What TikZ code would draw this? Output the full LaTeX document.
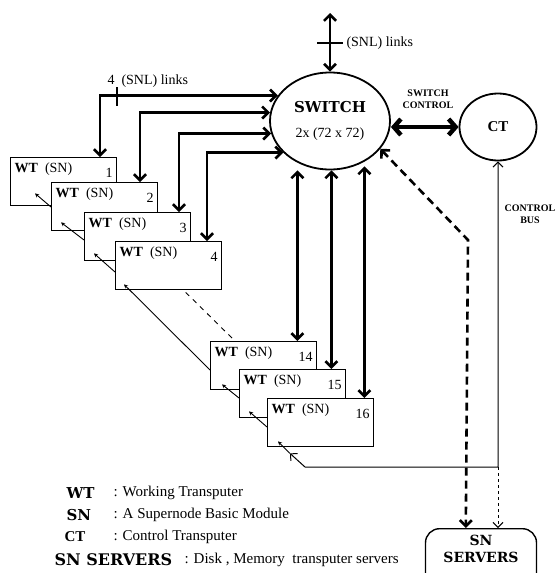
\documentclass[tikz,border=0pt]{standalone}
\usepackage{fontspec}
\setmainfont{Liberation Serif}
\newfontfamily\heavyfont{DejaVu Serif}
\usetikzlibrary{positioning,arrows.meta,shapes.geometric,calc}

\newcommand{\wtlabel}[1]{\textbf{WT}\enspace(SN)\hspace{0pt plus 1filll}\raisebox{-5pt}{#1}\hspace*{8pt}}

\tikzset{
  wtbox/.style={draw,fill=white,line width=1.4pt,anchor=north west,text width=98pt,
    inner xsep=4pt,inner ysep=3pt,text height=12pt,text depth=30pt,align=left,
    font=\fontsize{14}{16}\selectfont},
  link/.style={line width=2.6pt,{Straight Barb[length=6pt,width=12pt]}-{Straight Barb[length=6pt,width=12pt]}},
  chain/.style={line width=0.9pt,-{Stealth[length=4pt,width=4pt]}},
  keytext/.style={anchor=west,font=\heavyfont\bfseries\fontsize{15}{17}\selectfont},
  desctext/.style={anchor=west,font=\fontsize{15}{17}\selectfont},
  smallcaps/.style={font=\bfseries\fontsize{10}{12}\selectfont,align=center}
}

\begin{document}
\begin{tikzpicture}[x=1pt,y=-1pt]
\clip (0,0) rectangle (559,573);

% switch, control transputer, servers
\node[draw,ellipse,line width=1.8pt,minimum width=120pt,minimum height=97pt,inner sep=0pt,
  align=center,font=\fontsize{14}{16}\selectfont] (switch) at (330,121)
  {{\heavyfont\bfseries\fontsize{15}{16}\selectfont SWITCH}\\[9pt]2x (72 x 72)};
\node[draw,ellipse,line width=1.8pt,minimum width=77pt,minimum height=67pt,
  font=\bfseries\fontsize{15}{16}\selectfont] (ct) at (498,127) {CT};
\node[draw,rounded corners=14pt,line width=1.4pt,anchor=north,minimum width=111pt,
  minimum height=66pt,align=center,font=\heavyfont\bfseries\fontsize{14}{17}\selectfont]
  (servers) at (481,528) {SN\\SERVERS\\[8pt]};

% working transputers
\node[wtbox] (b1) at (10,157) {\wtlabel{1}};
\node[wtbox] (b2) at (51,182) {\wtlabel{2}};
\node[wtbox] (b3) at (84,212) {\wtlabel{3}};
\node[wtbox] (b4) at (115,241) {\wtlabel{4}};
\node[wtbox] (b14) at (210,341) {\wtlabel{14}};
\node[wtbox] (b15) at (239,369) {\wtlabel{15}};
\node[wtbox] (b16) at (267,398) {\wtlabel{16}};

% links to the switch
\draw[link] (switch.154) -| ($(b1.north west)+(90,0)$);
\draw[link] (switch.172) -| ($(b2.north west)+(89,0)$);
\draw[link] (switch.192) -| ($(b3.north west)+(95,0)$);
\draw[link] (switch.214) -| ($(b4.north west)+(92,0)$);
\coordinate (tick4) at (117,96);
\draw[line width=1.2pt] ($(tick4)+(0,-9)$) -- ($(tick4)+(0,10)$);
\node[desctext,font=\fontsize{14}{16}\selectfont] (snl4) at (104,81) {4\ \ (SNL) links};

\coordinate (d14) at ($(b14.north east)+(-20,0)$);
\coordinate (d15) at ($(b15.north east)+(-15,0)$);
\coordinate (d16) at ($(b16.north east)+(-10,0)$);
\draw[link] (d14 |- switch.south) -- (d14);
\draw[link] (d15 |- switch.south) -- (d15);
\draw[link] ($(d16 |- switch.south)+(0,-4)$) -- (d16);

\coordinate (ext) at (330,13);
\draw[link] (ext) -- (switch.north);
\draw[line width=1.2pt] ($(ext)+(-13,30)$) -- ($(ext)+(13,30)$);
\node[desctext,font=\fontsize{14}{16}\selectfont] (snl) at (343,43) {(SNL) links};

% switch control
\draw[line width=4.5pt,{Straight Barb[length=7pt,width=16pt]}-{Straight Barb[length=7pt,width=16pt]}]
  (ct.west -| switch.east) -- (ct.west);
\node[smallcaps] (swctl) at (428,99) {SWITCH\\CONTROL};

% servers link
\coordinate (bend) at (468,240);
\coordinate (srvin) at ($(servers.north west)+(41,0)$);
\draw[link,dash pattern=on 8pt off 5pt] (switch.331) -- (bend) -- (srvin);

% control bus
\coordinate (buscorner) at (305,467);
\coordinate (busturn) at (ct.south |- buscorner);
\coordinate (tip16) at ($(b16.south west)+(23,6)$);
\draw[line width=1pt,{Straight Barb[length=5pt,width=10pt]}-{Straight Barb[length=5pt,width=10pt]}]
  (tip16) -- (buscorner) -- (busturn) -- (ct.south);
\draw[line width=1pt,dashed,-{Straight Barb[length=5pt,width=10pt]}] (busturn) -- (busturn |- servers.north);
\node[smallcaps] (busl) at (530,214) {CONTROL\\BUS};

\coordinate (s1) at ($(b1.south west)+(25,-13)$);
\coordinate (s2) at ($(b2.south west)+(10,-9)$);
\coordinate (s3) at ($(b3.south west)+(10,-8)$);
\coordinate (s4) at ($(b4.south west)+(9,-6)$);
\coordinate (s14) at ($(b14.south west)+(12,-6)$);
\coordinate (s15) at ($(b15.south west)+(10,-7)$);
\coordinate (s16) at ($(b16.south west)+(11,-6)$);
\draw[chain] ($(b2.north west)+(0,25)$) -- (s1);
\draw[chain] ($(b3.north west)+(0,28)$) -- (s2);
\draw[chain] ($(b4.north west)+(0,31)$) -- (s3);
\draw[chain] ($(b14.north west)+(0,29)$) -- (s4);
\draw[chain] ($(b15.north west)+(0,29)$) -- (s14);
\draw[chain] ($(b16.north west)+(0,29)$) -- (s15);
\draw[chain] (tip16) -- (s16);
\draw[line width=0.9pt,dash pattern=on 5pt off 5pt] ($(b4.south)+(17,2)$) -- ($(b14.north west)+(23,-2)$);

% legend
\node[keytext] (kwt) at (63,493) {WT};
\node[desctext] (dwt) at (110,493) {: Working Transputer};
\node[keytext] (ksn) at (63,515) {SN};
\node[desctext] (dsn) at (110,515) {: A Supernode Basic Module};
\node[keytext,font=\bfseries\fontsize{15}{17}\selectfont] (kct) at (61,537) {CT};
\node[desctext] (dct) at (110,537) {: Control Transputer};
\node[keytext,font=\heavyfont\bfseries\fontsize{16}{18}\selectfont] (kserv) at (51,560) {SN SERVERS};
\node[desctext] (dserv) at (181,560) {: Disk , Memory\ \ transputer servers};
\end{tikzpicture}
\end{document}
